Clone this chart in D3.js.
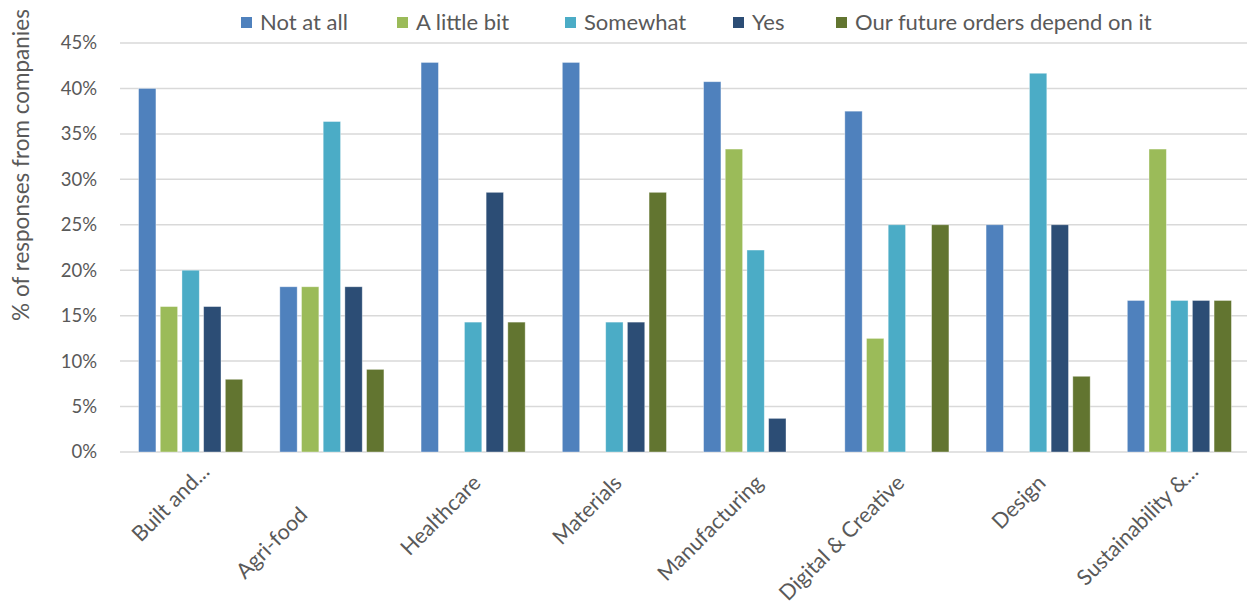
<!DOCTYPE html>
<html><head><meta charset="utf-8">
<script src="https://cdn.jsdelivr.net/npm/d3@7"></script>
<style>
body{margin:0;background:#fff;}
text{font-family:Lato,"Open Sans",sans-serif;fill:#595959;}
</style></head>
<body><svg id="chart" width="1247" height="606"></svg>
<script>
const categories = ["Built and...", "Agri-food", "Healthcare", "Materials", "Manufacturing", "Digital & Creative", "Design", "Sustainability &..."];
const seriesNames = ["Not at all", "A little bit", "Somewhat", "Yes", "Our future orders depend on it"];
const notAtAll   = [40.00, 18.18, 42.86, 42.86, 40.74, 37.50, 25.00, 16.67];
const aLittleBit = [16.00, 18.18, 0, 0, 33.33, 12.50, 0, 33.33];
const somewhat   = [20.00, 36.36, 14.29, 14.29, 22.22, 25.00, 41.67, 16.67];
const yes        = [16.00, 18.18, 28.57, 14.29, 3.70, 0, 25.00, 16.67];
const future     = [8.00, 9.09, 14.29, 28.57, 0, 25.00, 8.33, 16.67];
const yTicks = [0, 5, 10, 15, 20, 25, 30, 35, 40, 45];
const colors = ["#4F81BD", "#9BBB59", "#4BACC6", "#2C4D75", "#627530"];
const yTitle = "% of responses from companies";

const seriesValues = [notAtAll, aLittleBit, somewhat, yes, future];
const svg = d3.select("#chart");
const mLeft = 120, mRight = 1250, mTop = 43, mBottom = 452;

const x0 = d3.scaleBand().domain(categories).range([mLeft, mRight]).paddingInner(0.263).paddingOuter(0.1315);
const x1 = d3.scaleBand().domain(seriesNames).range([0, x0.bandwidth()]).paddingInner(0.2);
const y = d3.scaleLinear().domain([0, 45]).range([mBottom, mTop]);

// gridlines
svg.append("g").selectAll("line").data(yTicks).join("line")
  .attr("x1", mLeft).attr("x2", mRight)
  .attr("y1", d => y(d)).attr("y2", d => y(d))
  .attr("stroke", "#D9D9D9").attr("stroke-width", 1.5);

// y axis labels
const yAxis = d3.axisLeft(y).tickValues(yTicks).tickFormat(d => d + "%").tickSize(0).tickPadding(0);
const ga = svg.append("g").attr("transform", `translate(97,0)`).call(yAxis);
ga.select(".domain").remove();
ga.selectAll("text").style("font-size", "18.5px").style("font-family", "Lato, sans-serif").attr("fill", "#595959");

// bars
const groups = svg.append("g").selectAll("g").data(categories).join("g")
  .attr("transform", d => `translate(${x0(d)},0)`);
groups.selectAll("rect").data((d, i) => seriesNames.map((s, j) => ({s, v: seriesValues[j][i], j})))
  .join("rect")
  .filter(d => d.v > 0)
  .attr("x", d => x1(d.s)).attr("width", x1.bandwidth())
  .attr("y", d => y(d.v)).attr("height", d => y(0) - y(d.v))
  .attr("fill", d => colors[d.j])
  .attr("stroke", "#ffffff").attr("stroke-opacity", 0.45).attr("stroke-width", 0.8);

// x labels (rotated; top-right end of each label sits just right of the group centre)
const shift = {"Agri-food": 45, "Built and...": -16, "Sustainability &...": -16};
svg.append("g").selectAll("text").data(categories).join("text")
  .attr("transform", d => {
    const cx = x0(d) + x0.bandwidth() / 2 + 3.5;
    return `translate(${cx},479) rotate(-45)`;
  })
  .attr("text-anchor", "end")
  .attr("x", d => -(shift[d] || 0))
  .attr("dy", "0.35em")
  .style("font-size", "21.5px")
  .text(d => d);

// y title
svg.append("text")
  .attr("transform", `translate(28.5,165) rotate(-90)`)
  .attr("text-anchor", "middle")
  .style("font-size", "22.5px")
  .text(yTitle);

// legend
const legendX = [241, 397, 565, 733, 836];
const lg = svg.append("g").selectAll("g").data(seriesNames).join("g")
  .attr("transform", (d, i) => `translate(${legendX[i]},17)`);
lg.append("rect").attr("width", 11).attr("height", 11).attr("fill", (d, i) => colors[i]);
lg.append("text").attr("x", 19).attr("y", 5.5).attr("dy", "0.36em").style("font-size", "22px").text(d => d);
</script></body></html>
